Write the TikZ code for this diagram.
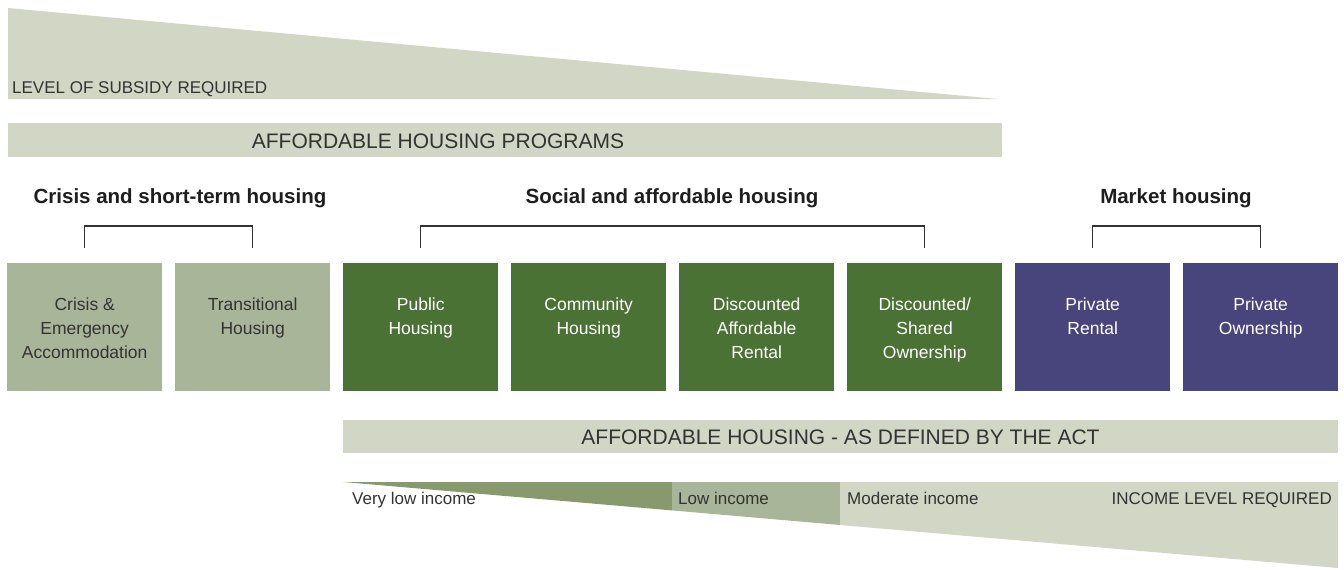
\documentclass[tikz,border=0pt]{standalone}
\usepackage{fontspec}
\setmainfont{Liberation Sans}
\definecolor{pale}{HTML}{D2D6C4}
\definecolor{sage}{HTML}{A9B598}
\definecolor{dgreen}{HTML}{4A7234}
\definecolor{purp}{HTML}{48457C}
\definecolor{wgreen}{HTML}{869A6E}
\definecolor{txt}{HTML}{333333}
\definecolor{head}{HTML}{1E1E1E}
\tikzset{
  boxbase/.style={minimum width=155pt, minimum height=128pt, inner sep=0pt, anchor=north west, draw=none},
  lightbox/.style={boxbase, fill=sage},
  greenbox/.style={boxbase, fill=dgreen},
  purpbox/.style={boxbase, fill=purp},
  boxtxt/.style={anchor=north, inner sep=0pt, align=center, font=\fontsize{17.5}{24}\selectfont},
  darktxt/.style={boxtxt, text=txt},
  whitetxt/.style={boxtxt, text=white},
  heading/.style={anchor=base, inner sep=0pt, text=head, font=\fontsize{20.5}{24}\selectfont\bfseries},
  bartitle/.style={anchor=base, inner sep=0pt, text=txt, font=\fontsize{21}{24}\selectfont},
  smalltxt/.style={inner sep=0pt, text=txt, font=\fontsize{17}{20}\selectfont},
  bracket/.style={draw=txt, line width=1.5pt},
  barbox/.style={fill=pale, inner sep=0pt, anchor=north west, draw=none}
}
\begin{document}
\begin{tikzpicture}[x=1pt,y=-1pt]
\useasboundingbox (0,0) rectangle (1344,570);
% top subsidy triangle
\fill[pale] (8,8) -- (998,99) -- (8,99) -- cycle;
\node[smalltxt, anchor=base west] (subsidy) at (12,93) {LEVEL OF SUBSIDY REQUIRED};
% programs bar
\node[barbox, minimum width=994pt, minimum height=34pt] (progbar) at (8,123) {};
\node[bartitle] (progtxt) at (438,148.5) {AFFORDABLE HOUSING PROGRAMS};
% headings
\node[heading] (h1) at (180,203) {Crisis and short-term housing};
\node[heading] (h2) at (672,203) {Social and affordable housing};
\node[heading] (h3) at (1176,203) {Market housing};
% boxes
\node[lightbox] (b1) at (7,263) {};
\node[lightbox] (b2) at (175,263) {};
\node[greenbox] (b3) at (343,263) {};
\node[greenbox] (b4) at (511,263) {};
\node[greenbox] (b5) at (679,263) {};
\node[greenbox] (b6) at (847,263) {};
\node[purpbox] (b7) at (1015,263) {};
\node[purpbox] (b8) at (1183,263) {};
% box texts
\node[darktxt] (t1) at ([yshift=-34pt]b1.north) {\rule{0pt}{13pt}Crisis \&\\Emergency\\Accommodation};
\node[darktxt] (t2) at ([yshift=-34pt]b2.north) {\rule{0pt}{13pt}Transitional\\Housing};
\node[whitetxt] (t3) at ([yshift=-34pt]b3.north) {\rule{0pt}{13pt}Public\\Housing};
\node[whitetxt] (t4) at ([yshift=-34pt]b4.north) {\rule{0pt}{13pt}Community\\Housing};
\node[whitetxt] (t5) at ([yshift=-34pt]b5.north) {\rule{0pt}{13pt}Discounted\\Affordable\\Rental};
\node[whitetxt] (t6) at ([yshift=-34pt]b6.north) {\rule{0pt}{13pt}Discounted/\\Shared\\Ownership};
\node[whitetxt] (t7) at ([yshift=-34pt]b7.north) {\rule{0pt}{13pt}Private\\Rental};
\node[whitetxt] (t8) at ([yshift=-34pt]b8.north) {\rule{0pt}{13pt}Private\\Ownership};
% brackets
\draw[bracket] ([yshift=15pt]b1.north) -- ([yshift=37pt]b1.north) -- ([yshift=37pt]b2.north) -- ([yshift=15pt]b2.north);
\draw[bracket] ([yshift=15pt]b3.north) -- ([yshift=37pt]b3.north) -- ([yshift=37pt]b6.north) -- ([yshift=15pt]b6.north);
\draw[bracket] ([yshift=15pt]b7.north) -- ([yshift=37pt]b7.north) -- ([yshift=37pt]b8.north) -- ([yshift=15pt]b8.north);
% act bar
\node[barbox, minimum width=995pt, minimum height=33pt] (actbar) at (343,420) {};
\node[bartitle] (acttxt) at (840.5,444) {AFFORDABLE HOUSING - AS DEFINED BY THE ACT};
% income wedge
\fill[wgreen] (343,482) -- (672,482) -- (672,510.4) -- cycle;
\fill[sage] (672,482) -- (840,482) -- (840,525) -- (672,510.4) -- cycle;
\fill[pale] (840,482) -- (1338,482) -- (1338,568) -- (840,525) -- cycle;
\node[smalltxt, anchor=base west] (vlow) at (352,504) {Very low income};
\node[smalltxt, anchor=base west] (low) at (678,504) {Low income};
\node[smalltxt, anchor=base west] (mod) at (847,504) {Moderate income};
\node[smalltxt, anchor=base east] (inc) at (1332,504) {INCOME LEVEL REQUIRED};
\end{tikzpicture}
\end{document}
